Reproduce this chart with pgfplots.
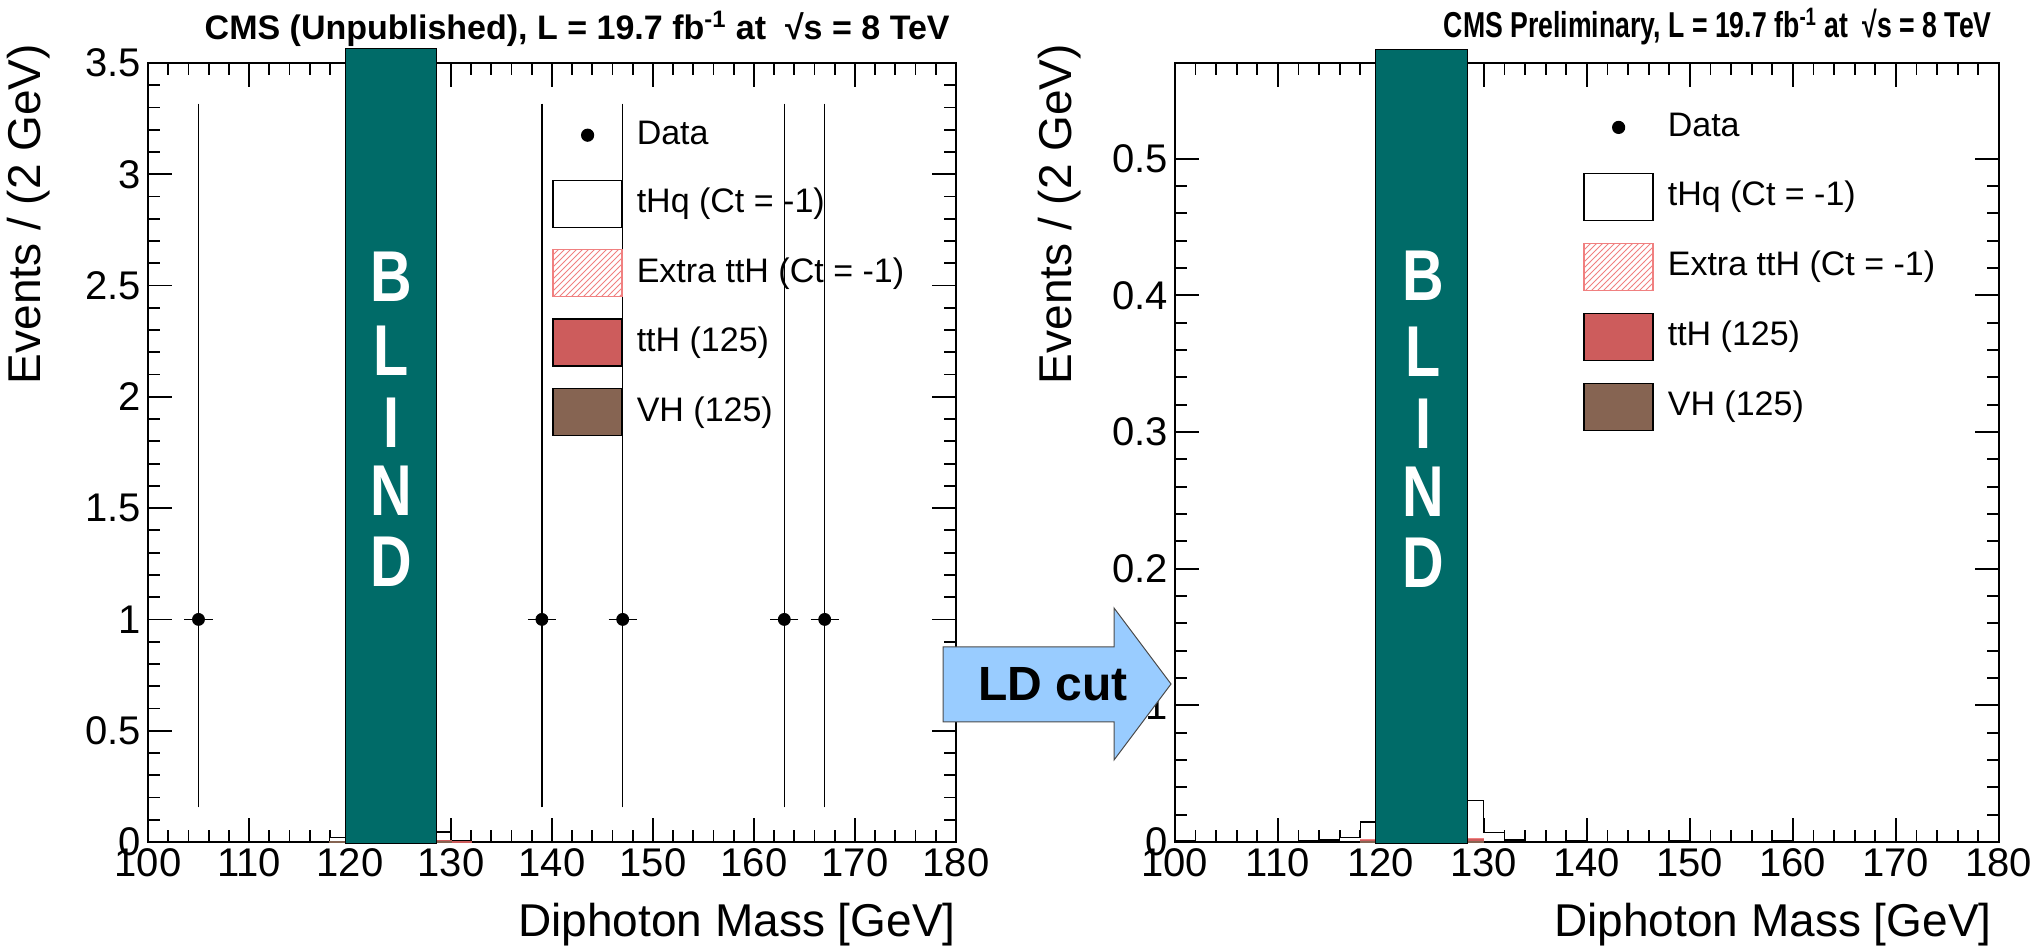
\documentclass[border=0pt]{standalone}
\usepackage{fontspec}
\setmainfont{Liberation Sans}
\usepackage{graphicx}
\usepackage{pgfplots}
\pgfplotsset{compat=1.18}
\usetikzlibrary{patterns}
\definecolor{blindteal}{RGB}{0,107,104}
\definecolor{tthred}{RGB}{205,92,92}
\definecolor{vhbrown}{RGB}{134,100,82}
\definecolor{hatchred}{RGB}{240,128,128}
\definecolor{arrowblue}{RGB}{153,204,255}

\pgfplotsset{
  cmsaxis/.style={
    scale only axis,
    anchor=south west,
    xmin=100, xmax=180,
    xtick={100,110,...,180},
    minor x tick num=4,
    minor y tick num=4,
    tick align=inside,
    major tick length=12pt,
    minor tick length=6pt,
    axis line style={line width=0.8pt},
    every tick/.style={line width=0.9pt, black},
    ticklabel style={font=\fontsize{20}{24}\selectfont},
    /pgf/number format/assume math mode=true,
    legend cell align=left,
    legend style={draw=none, fill=none, inner sep=0pt, row sep=10.5pt, column sep=7pt,
      font=\fontsize{17}{20}\selectfont,
      nodes={inner sep=0pt, text height=12.5pt, text depth=3.5pt}},
    clip=false,
  },
  histline/.style={const plot, line width=0.6pt, forget plot},
}

\newcommand{\cmslegend}{%
  \addlegendimage{legend image code/.code={\path[draw=none,fill=none] (0pt,-11.75pt) rectangle (34.5pt,11.75pt); \fill[black,draw=none] (17.25pt,0pt) circle (3.3pt);}}
  \addlegendentry{Data}
  \addlegendimage{legend image code/.code={\draw[fill=white,draw=black,line width=0.7pt] (0pt,-11.75pt) rectangle (34.5pt,11.75pt);}}
  \addlegendentry{tHq (Ct = -1)}
  \addlegendimage{legend image code/.code={\draw[pattern=north east lines,pattern color=hatchred,draw=hatchred,line width=0.7pt] (0pt,-11.75pt) rectangle (34.5pt,11.75pt);}}
  \addlegendentry{Extra ttH (Ct = -1)}
  \addlegendimage{legend image code/.code={\draw[fill=tthred,draw=black,line width=0.7pt] (0pt,-11.75pt) rectangle (34.5pt,11.75pt);}}
  \addlegendentry{ttH (125)}
  \addlegendimage{legend image code/.code={\draw[fill=vhbrown,draw=black,line width=0.7pt] (0pt,-11.75pt) rectangle (34.5pt,11.75pt);}}
  \addlegendentry{VH (125)}
}

\newcommand{\blindletters}[6]{%
  \node[text=white, font=\fontsize{36}{36}\selectfont\bfseries] at (axis cs:124.1,#2) {\scalebox{0.8}[1]{B}};
  \node[text=white, font=\fontsize{36}{36}\selectfont\bfseries] at (axis cs:124.1,#3) {\scalebox{0.8}[1]{L}};
  \node[text=white, font=\fontsize{36}{36}\selectfont\bfseries] at (axis cs:124.1,#4) {\scalebox{0.8}[1]{I}};
  \node[text=white, font=\fontsize{36}{36}\selectfont\bfseries] at (axis cs:124.1,#5) {\scalebox{0.8}[1]{N}};
  \node[text=white, font=\fontsize{36}{36}\selectfont\bfseries] at (axis cs:124.1,#6) {\scalebox{0.8}[1]{D}};
}

\begin{document}
\begin{tikzpicture}
\path[use as bounding box] (0pt,0pt) rectangle (1019.5pt,476pt);

% ---------------- left plot ----------------
\begin{axis}[cmsaxis, at={(74pt,55pt)}, width=404pt, height=389.5pt,
  ymin=0, ymax=3.5, ytick={0,0.5,...,3.5},
  legend style={at={(0.5,0.938)}, anchor=north west}]
\cmslegend
% stacked histograms (cumulative)
\addplot[histline, fill=white, draw=black] coordinates {
 (100,0) (114,0.002) (116,0.004) (118,0.022) (120,0.06) (122,0.10) (124,0.10) (126,0.07)
 (128,0.045) (130,0.005) (132,0.002) (134,0) (180,0)} \closedcycle;
\addplot[histline, pattern=north east lines, pattern color=hatchred, draw=hatchred] coordinates {
 (118,0.003) (120,0.010) (128,0.007) (130,0.001) (132,0.001)} \closedcycle;
\addplot[histline, fill=tthred, draw=tthred] coordinates {
 (118,0.002) (120,0.008) (128,0.006) (130,0.001) (132,0.001)} \closedcycle;
\addplot[histline, fill=vhbrown, draw=vhbrown] coordinates {
 (118,0.0005) (120,0.002) (128,0.001) (130,0.001)} \closedcycle;
% blind box
\draw[fill=blindteal, draw=black, line width=0.5pt] (axis cs:119.6,-0.008) rectangle (axis cs:128.6,3.563);
\blindletters{}{2.54}{2.206}{1.882}{1.577}{1.258}
% data
\addplot[only marks, mark=*, mark size=3pt, black, forget plot,
  error bars/.cd, x dir=both, x explicit, y dir=both, y explicit,
  error bar style={line width=0.7pt}, error mark options={line width=0.7pt, mark size=2pt}]
  coordinates {
  (105,1) += (1,2.30) -= (1,0.827)
  (139,1) += (1,2.30) -= (1,0.827)
  (147,1) += (1,2.30) -= (1,0.827)
  (163,1) += (1,2.30) -= (1,0.827)
  (167,1) += (1,2.30) -= (1,0.827)
  };
\end{axis}

% ---------------- right plot ----------------
\begin{axis}[cmsaxis, at={(587.4pt,55pt)}, width=412pt, height=389.5pt,
  ymin=0, ymax=0.57, ytick={0,0.1,0.2,0.3,0.4,0.5},
  legend style={at={(0.4954,0.948)}, anchor=north west, row sep=10.8pt}]
\cmslegend
\addplot[histline, fill=white, draw=black] coordinates {
 (100,0.0008) (102,0) (112,0.0008) (114,0.0015) (116,0.003) (118,0.0146) (120,0.04) (122,0.07)
 (124,0.07) (126,0.05) (128,0.0305) (130,0.0068) (132,0.0015) (134,0) (138,0.0008) (140,0)
 (148,0.0008) (150,0) (158,0.0008) (160,0) (180,0)} \closedcycle;
\addplot[histline, pattern=north east lines, pattern color=hatchred, draw=hatchred] coordinates {
 (118,0.0015) (120,0.005) (128,0.0025) (130,0.0025)} \closedcycle;
\addplot[histline, fill=tthred, draw=tthred] coordinates {
 (118,0.001) (120,0.004) (128,0.002) (130,0.002)} \closedcycle;
\addplot[histline, fill=vhbrown, draw=vhbrown] coordinates {
 (118,0.0003) (120,0.001) (128,0.0005) (130,0.0005)} \closedcycle;
\draw[fill=blindteal, draw=black, line width=0.5pt] (axis cs:119.5,-0.0013) rectangle (axis cs:128.4,0.580);
\blindletters{}{0.414}{0.359}{0.306}{0.256}{0.204}
\end{axis}

% ---------------- texts ----------------
\node[anchor=base east, inner sep=0pt, font=\fontsize{17}{20}\selectfont\bfseries] at (475pt,456pt)
  {CMS (Unpublished), L = 19.7 fb\textsuperscript{-1} at \ √s = 8 TeV};
\node[anchor=base east, inner sep=0pt, font=\fontsize{18}{20}\selectfont\bfseries] at (996pt,457pt)
  {\scalebox{0.74}[1]{CMS Preliminary, L = 19.7 fb\textsuperscript{-1} at \ √s = 8 TeV}};

\node[anchor=base east, inner sep=0pt, font=\fontsize{23}{27}\selectfont] at (478pt,7.5pt) {Diphoton Mass [GeV]};
\node[anchor=base east, inner sep=0pt, font=\fontsize{23}{27}\selectfont] at (996pt,7.5pt) {Diphoton Mass [GeV]};
\node[anchor=east, rotate=90, font=\fontsize{23}{27}\selectfont] at (14.5pt,457.5pt) {Events / (2 GeV)};
\node[anchor=east, rotate=90, font=\fontsize{23}{27}\selectfont] at (530pt,457.5pt) {Events / (2 GeV)};

% ---------------- LD cut arrow ----------------
\draw[fill=arrowblue, draw=black!70, line width=0.5pt]
  (471.5pt,115pt) -- (471.5pt,152.5pt) -- (557pt,152.5pt) -- (557pt,172pt) -- (585.5pt,134pt)
  -- (557pt,96pt) -- (557pt,115pt) -- cycle;
\node[font=\fontsize{24}{28}\selectfont\bfseries] at (526.5pt,134pt) {LD cut};
\end{tikzpicture}
\end{document}
